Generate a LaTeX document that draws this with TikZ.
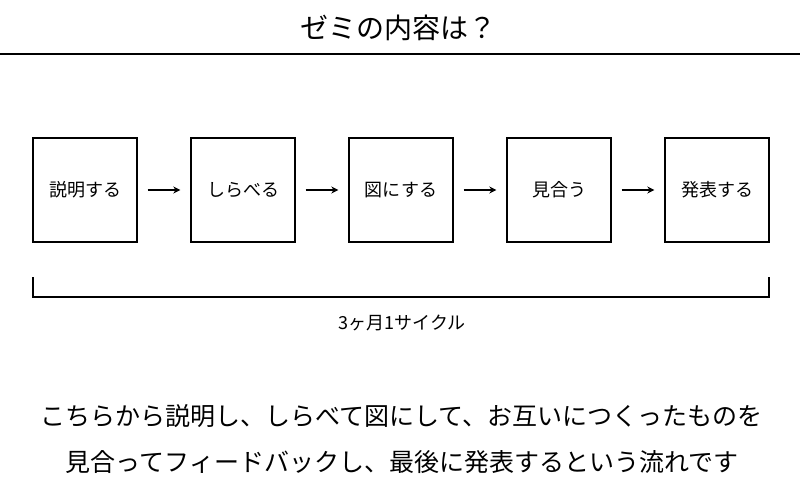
\documentclass[tikz,border=0pt]{standalone}
\usepackage{fontspec}
\setmainfont{Noto Sans CJK JP}
\usetikzlibrary{arrows.meta}
\tikzset{
  stepbox/.style={draw, line width=1.4pt, minimum width=104pt, minimum height=104pt, inner sep=0pt, font=\fontsize{18}{20}\selectfont},
  flow/.style={line width=1.3pt, -{Stealth[length=7pt,width=7pt]}},
  bodytext/.style={font=\fontsize{25}{30}\selectfont, inner sep=0pt}
}
\begin{document}
\begin{tikzpicture}[x=1pt,y=-1pt]
\useasboundingbox (0,0) rectangle (800,500);
\node[font=\fontsize{28}{32}\selectfont, inner sep=0pt] (title) at (398,28) {ゼミの内容は？};
\coordinate (l1) at (0,54);
\coordinate (l2) at (800,54);
\draw[line width=1.4pt] (l1) -- (l2);
\node[stepbox] (b1) at (85,190) {説明する};
\node[stepbox] (b2) at (243,190) {しらべる};
\node[stepbox] (b3) at (401,190) {図にする};
\node[stepbox] (b4) at (559,190) {見合う};
\node[stepbox] (b5) at (717,190) {発表する};
\foreach \a/\b in {b1/b2,b2/b3,b3/b4,b4/b5}
  \draw[flow] ([xshift=10pt]\a.east) -- ([xshift=-10pt]\b.west);
\coordinate (k1) at (33,277);
\coordinate (k2) at (33,297);
\coordinate (k3) at (769,297);
\coordinate (k4) at (769,277);
\draw[line width=1.4pt] (k1) -- (k2) -- (k3) -- (k4);
\node[font=\fontsize{18}{20}\selectfont, inner sep=0pt] (cyc) at (402,323) {3ヶ月1サイクル};
\node[bodytext] (t1) at (401,416) {こちらから説明し、しらべて図にして、お互いにつくったものを};
\node[bodytext] (t2) at (402,462) {見合ってフィードバックし、最後に発表するという流れです};
\end{tikzpicture}
\end{document}
